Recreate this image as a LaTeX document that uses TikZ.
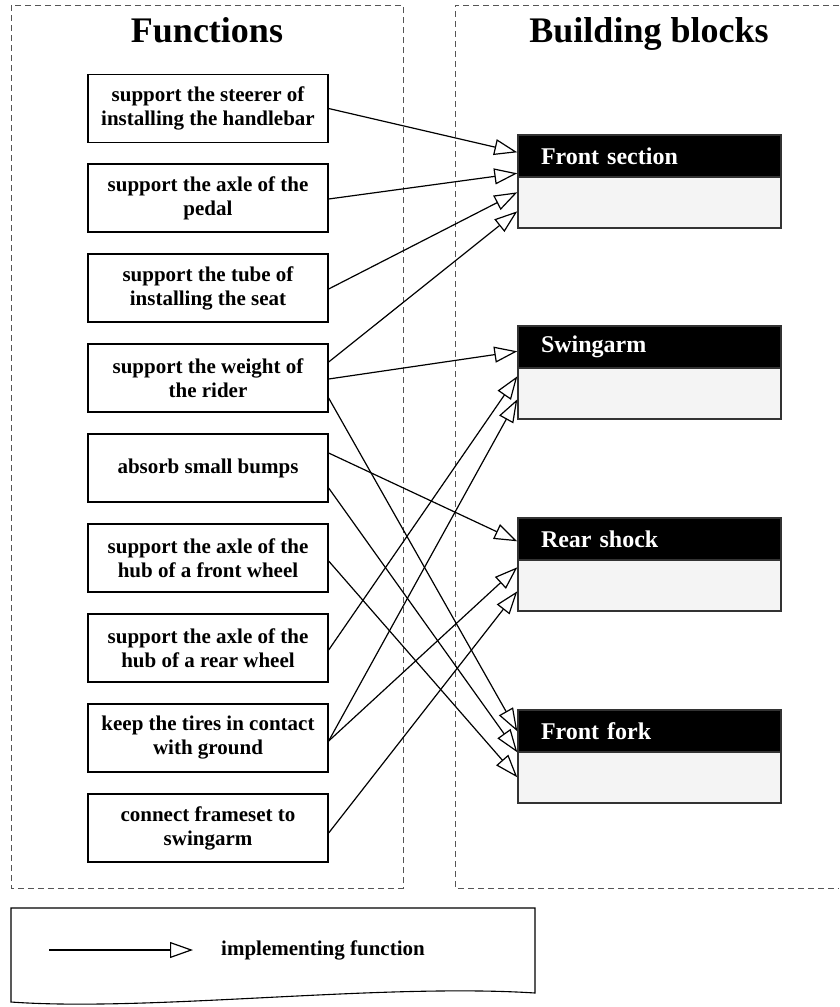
\documentclass[tikz,border=0pt]{standalone}
\usepackage{fontspec}
\setmainfont{Liberation Serif}
\usetikzlibrary{arrows.meta}
\definecolor{framegray}{HTML}{555555}
\definecolor{bodygray}{HTML}{F4F4F4}
\definecolor{edgegray}{HTML}{333333}

\begin{document}
\begin{tikzpicture}[x=1pt,y=-1pt,
  container/.style={draw=framegray, line width=0.9pt, dash pattern=on 6pt off 4pt},
  title/.style={font=\fontsize{36}{40}\selectfont\bfseries, anchor=base, inner sep=0pt},
  funcbox/.style={draw=black, line width=1.3pt, minimum width=240pt, minimum height=68pt,
    align=center, font=\fontsize{21}{24}\selectfont\bfseries, inner sep=2pt},
  blockbody/.style={draw=edgegray, line width=1.4pt, fill=bodygray, minimum width=263pt,
    minimum height=93pt, inner sep=0pt},
  blockhead/.style={draw=edgegray, line width=1.4pt, fill=black, text=white, minimum width=263pt,
    minimum height=42pt, inner xsep=0pt, text width=217pt, align=left,
    font=\fontsize{24}{28}\selectfont\bfseries},
  implements/.style={line width=1.2pt, -{Triangle[length=23pt,width=16pt,fill=white,line width=1.2pt]}},
  legendtext/.style={font=\fontsize{21}{24}\selectfont\bfseries, anchor=west, inner sep=0pt},
]
\useasboundingbox (0,0) rectangle (839,1007);

% dashed containers
\draw[container] (11,5) rectangle (403,888);
\draw[container] (839,5) -- (455,5) -- (455,888) -- (839,888);
\node[title] (tf) at (207,42) {Functions};
\node[title] (tb) at (649,42) {Building blocks};

% functions
\node[funcbox] (f1) at (208,108.5) {support the steerer of\\installing the handlebar};
\node[funcbox] (f2) at (208,198) {support the axle of the\\pedal};
\node[funcbox] (f3) at (208,288) {support the tube of\\installing the seat};
\node[funcbox] (f4) at (208,378) {support the weight of\\the rider};
\node[funcbox] (f5) at (208,468) {absorb small bumps};
\node[funcbox] (f6) at (208,558) {support the axle of the\\hub of a front wheel};
\node[funcbox] (f7) at (208,648) {support the axle of the\\hub of a rear wheel};
\node[funcbox] (f8) at (208,738) {keep the tires in contact\\with ground};
\node[funcbox] (f9) at (208,828) {connect frameset to\\swingarm};

% building blocks
\node[blockbody] (fs) at (649.5,181.5) {};
\node[blockhead, anchor=north] (fsh) at (fs.north) {Front section};
\node[blockbody] (sw) at (649.5,372.5) {};
\node[blockhead, anchor=north] (swh) at (sw.north) {Swingarm};
\node[blockbody] (rs) at (649.5,564.5) {};
\node[blockhead, anchor=north] (rsh) at (rs.north) {Rear shock};
\node[blockbody] (ff) at (649.5,756.5) {};
\node[blockhead, anchor=north] (ffh) at (ff.north) {Front fork};

% implementing-function links
\draw[implements] (f1.east) -- ([yshift=-18pt]fs.north west);
\draw[implements] ([yshift=-1pt]f2.east) -- ([yshift=-39pt]fs.north west);
\draw[implements] ([yshift=-1pt]f3.east) -- ([yshift=-58pt]fs.north west);
\draw[implements] ([yshift=16pt]f4.east) -- ([yshift=-77pt]fs.north west);
\draw[implements] ([yshift=-1pt]f4.east) -- ([yshift=-26pt]sw.north west);
\draw[implements] ([yshift=-20pt]f4.east) -- ([yshift=-22pt]ff.north west);
\draw[implements] ([yshift=15pt]f5.east) -- ([yshift=-24pt]rs.north west);
\draw[implements] ([yshift=-20pt]f5.east) -- ([yshift=-43pt]ff.north west);
\draw[implements] ([yshift=-3pt]f6.east) -- ([yshift=-68pt]ff.north west);
\draw[implements] ([yshift=-2pt]f7.east) -- ([yshift=-51pt]sw.north west);
\draw[implements] ([yshift=-3pt]f8.east) -- ([yshift=-74pt]sw.north west);
\draw[implements] ([yshift=-3pt]f8.east) -- ([yshift=-50pt]rs.north west);
\draw[implements] ([yshift=-5pt]f9.east) -- ([yshift=-74pt]rs.north west);

% legend
\draw[line width=1.1pt] (11,908) -- (535,908) -- (535,993)
  .. controls (380,983) and (150,1012) .. (11,1002) -- cycle;
\coordinate (la) at (49,950);
\coordinate (lb) at (193,950);
\draw[implements] (la) -- (lb);
\node[legendtext] (lt) at (221,950) {implementing function};
\end{tikzpicture}
\end{document}
